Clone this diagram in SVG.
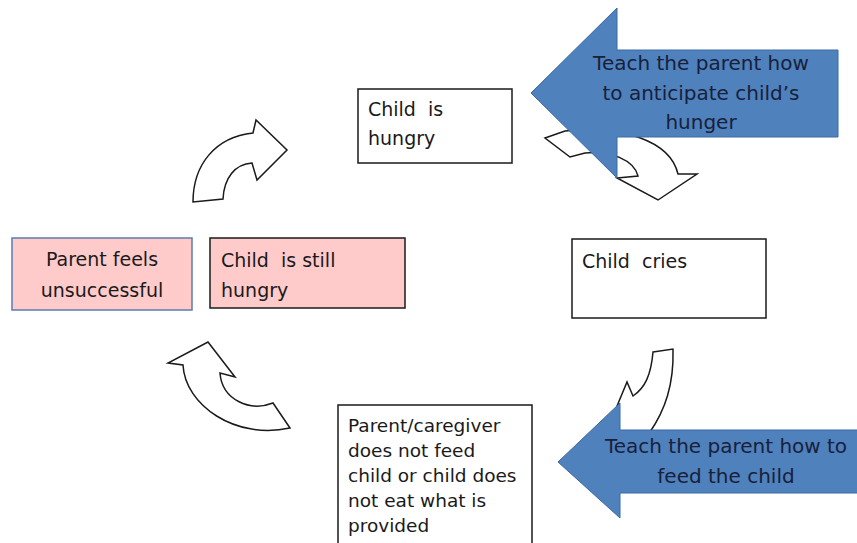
<svg xmlns="http://www.w3.org/2000/svg" width="857" height="543" viewBox="0 0 857 543">
<style>
.box{fill:#ffffff;stroke:#1a1a1a;stroke-width:1.5}
.pink{fill:#ffcaca;stroke:#1a1a1a;stroke-width:1.5}
.pinkb{fill:#ffcaca;stroke:#5a7db0;stroke-width:1.5}
.curve{fill:#ffffff;stroke:#1a1a1a;stroke-width:1.5;stroke-linejoin:miter}
.blue{fill:#4f81bd;stroke:#3b6aa0;stroke-width:1}
text{font-family:"DejaVu Sans","Liberation Sans",sans-serif;fill:#1a1a1a;white-space:pre}
.t{font-size:19px}
.s{font-size:18.5px}
.b{font-size:20px;fill:#18203a;text-anchor:middle}
</style>
<rect width="857" height="543" fill="#ffffff"/>
<g id="connectors">
<path class="curve" d="M193,202 C193,165 215,137 253,133 L256,120 L287,150 L257,180 L252,163 C235,164 224,178 223,199 Z"/>
<path class="curve" d="M545,138 L565,131 C620,125 670,140 678,174 L697,174 L658,200 L617,178 L638,176 C634,160 610,150 585,153 L570,157 Z"/>
<path class="curve" d="M653,352 L673,349 C674,385 665,410 650,432 L662,448 L598,452 L627,382 L633,396 C645,388 651,375 653,352 Z"/>
<path class="curve" d="M290,428 L273,403 C250,412 222,400 220,373 L235,377 L208,342 L168,363 L183,365 C185,405 235,440 290,428 Z"/>
</g>
<g id="child-hungry">
<rect class="box" x="358" y="89" width="154" height="74"/>
<text class="t" x="368" y="116">Child  is</text>
<text class="t" x="368" y="145">hungry</text>
</g>
<g id="child-cries">
<rect class="box" x="572" y="239" width="194" height="79"/>
<text class="t" x="582" y="268">Child  cries</text>
</g>
<g id="parent-not-feed">
<rect class="box" x="338" y="405" width="194" height="145"/>
<text class="s" x="348" y="432">Parent/caregiver</text>
<text class="s" x="348" y="457">does not feed</text>
<text class="s" x="348" y="482">child or child does</text>
<text class="s" x="348" y="507">not eat what is</text>
<text class="s" x="348" y="532">provided</text>
</g>
<g id="child-still-hungry">
<rect class="pink" x="210" y="238" width="195" height="70"/>
<text class="t" x="221" y="267">Child  is still</text>
<text class="t" x="221" y="297">hungry</text>
</g>
<g id="parent-unsuccessful">
<rect class="pinkb" x="12" y="238" width="180" height="72"/>
<text class="t" x="102" y="266" text-anchor="middle">Parent feels</text>
<text class="t" x="102" y="297" text-anchor="middle">unsuccessful</text>
</g>
<g id="teach-anticipate">
<path class="blue" d="M531,93 L617,8 L617,50 L838,50 L838,137 L617,137 L617,178 Z"/>
<text class="b" x="701" y="70">Teach the parent how</text>
<text class="b" x="701" y="100">to anticipate child’s</text>
<text class="b" x="701" y="129">hunger</text>
</g>
<g id="teach-feed">
<path class="blue" d="M558,462 L620,403 L620,430 L858,430 L858,493 L620,493 L620,518 Z"/>
<text class="b" x="726" y="453">Teach the parent how to</text>
<text class="b" x="726" y="483">feed the child</text>
</g>
</svg>
